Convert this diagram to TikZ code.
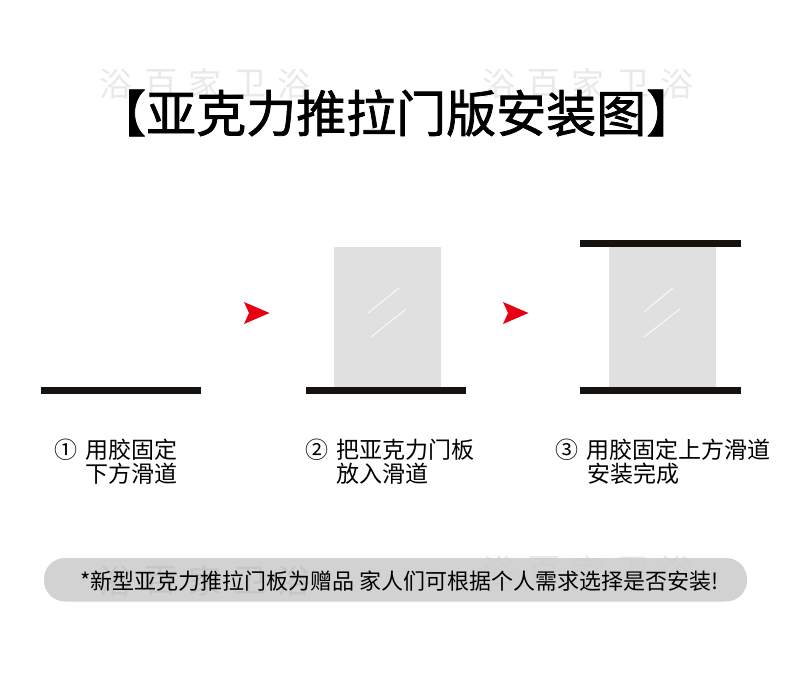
\documentclass[tikz,border=0pt]{standalone}
\usepackage{fontspec}
\setmainfont{Noto Sans CJK SC}
\newfontfamily\titlefont[FakeBold=1.5]{Noto Sans CJK SC}
\newfontfamily\labelfont{Noto Sans CJK SC}
\definecolor{railblack}{HTML}{15120F}
\definecolor{doorgrey}{HTML}{E0E0E0}
\definecolor{pillgrey}{HTML}{D2D2D2}
\definecolor{markgrey}{HTML}{E9E9E9}
\definecolor{pillmark}{HTML}{C6C6C6}
\definecolor{pillfaint}{HTML}{CFCFCF}
\definecolor{arrowred}{HTML}{E60012}
\tikzset{
  x=1pt,y=-1pt,
  rail/.style={fill=railblack,draw=none},
  door/.style={fill=doorgrey,draw=none},
  glint/.style={draw=white,line width=1pt,line cap=round,opacity=.8},
  redarrow/.style={fill=arrowred,draw=none},
  titletext/.style={inner sep=0pt,anchor=west,font=\titlefont\fontsize{50}{50}\selectfont,text=black},
  steptext/.style={inner sep=0pt,anchor=west,font=\labelfont\fontsize{23}{24}\selectfont,text=black},
  notetext/.style={inner sep=0pt,anchor=west,font=\labelfont\fontsize{22}{24}\selectfont,text=black},
  marktext/.style={inner sep=0pt,anchor=center,font=\labelfont\fontsize{33}{33}\selectfont},
}
\newcommand{\wmark}[3]{%
  \node[marktext,text=#3] at (#1,#2) {浴};
  \node[marktext,text=#3] at (#1+44.5,#2) {百};
  \node[marktext,text=#3] at (#1+89,#2) {家};
  \node[marktext,text=#3] at (#1+133.5,#2) {卫};
  \node[marktext,text=#3] at (#1+178,#2) {浴};
}
\begin{document}
\begin{tikzpicture}
\useasboundingbox (0,0) rectangle (790,688);
\fill[white] (0,0) rectangle (790,688);
% watermarks
\wmark{116}{84}{markgrey}
\wmark{499}{84}{markgrey}
\wmark{499}{571}{markgrey}
% pill
\fill[pillgrey,rounded corners=21pt] (44,558) rectangle (747,601.5);
\begin{scope}
\clip[rounded corners=21pt] (44,558) rectangle (747,601.5);
\wmark{116}{581}{pillmark}
\wmark{499}{571}{pillfaint}
\end{scope}
% title
\node[titletext] (title) at (96,113) {【亚克力推拉门版安装图】};
% first step
\fill[rail] (41,387) rectangle (201,394);
% second step
\fill[door] (334,247) rectangle (441,387);
\draw[glint] (368,313) -- (399,288);
\draw[glint] (371,337) -- (406,309);
\fill[rail] (305.5,387) rectangle (466,394);
% third step
\fill[door] (609,247) rectangle (716,387);
\draw[glint] (644,312) -- (673,288);
\draw[glint] (644,337) -- (680,309);
\fill[rail] (580,240) rectangle (741,247);
\fill[rail] (580,387) rectangle (741,394);
% arrows
\fill[redarrow] (244,302) -- (269.5,313) -- (244,324) -- (249,313) -- cycle;
\fill[redarrow] (503,302) -- (528.5,313) -- (503,324) -- (508,313) -- cycle;
% labels
\node[steptext] (s1a) at (54,450) {①\hspace{8pt}用胶固定};
\node[steptext] (s1b) at (85.5,474) {下方滑道};
\node[steptext] (s2a) at (305,450) {②\hspace{8pt}把亚克力门板};
\node[steptext] (s2b) at (336.5,474) {放入滑道};
\node[steptext] (s3a) at (555,450) {③\hspace{8pt}用胶固定上方滑道};
\node[steptext] (s3b) at (587.5,474) {安装完成};
% note
\node[notetext] (note) at (80,581) {*新型亚克力推拉门板为赠品 家人们可根据个人需求选择是否安装!};
\end{tikzpicture}
\end{document}
